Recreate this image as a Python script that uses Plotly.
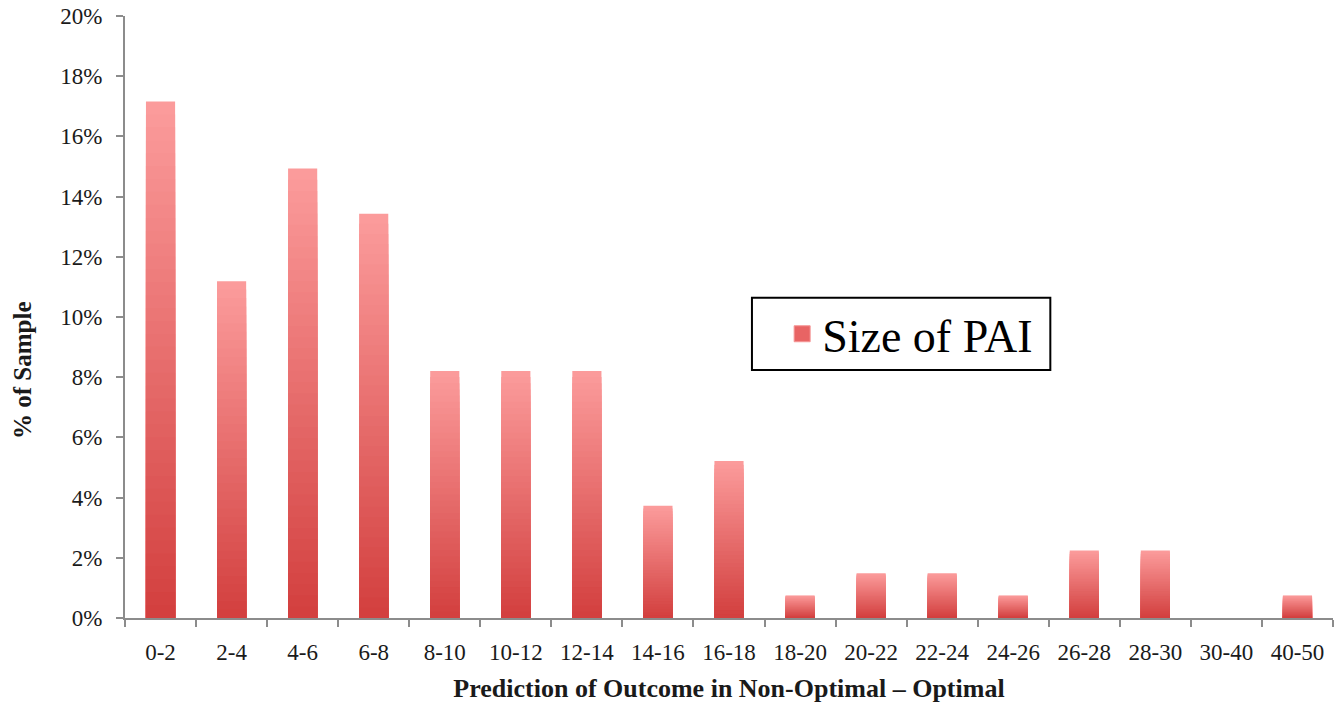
import plotly.graph_objects as go

categories = ["0-2", "2-4", "4-6", "6-8", "8-10", "10-12", "12-14", "14-16", "16-18",
              "18-20", "20-22", "22-24", "24-26", "26-28", "28-30", "30-40", "40-50"]
pct_sample = [17.16, 11.19, 14.93, 13.43, 8.21, 8.21, 8.21, 3.73, 5.22,
              0.75, 1.49, 1.49, 0.75, 2.24, 2.24, 0.0, 0.75]
series_name = "Size of PAI"
y_ticks = [0, 2, 4, 6, 8, 10, 12, 14, 16, 18, 20]
y_tick_text = [f"{v}%" for v in y_ticks]

top_rgb = (251, 155, 155)
bot_rgb = (211, 64, 63)
N = 40

fig = go.Figure()
for k in range(N):
    frac = 1 - k / N
    t = k / (N - 1)
    c = tuple(round(top_rgb[i] + (bot_rgb[i] - top_rgb[i]) * t) for i in range(3))
    fig.add_trace(go.Bar(
        x=categories,
        y=[v * frac for v in pct_sample],
        marker=dict(color="rgb(%d,%d,%d)" % c, line=dict(width=0)),
        showlegend=False,
        hoverinfo="skip",
    ))

# legend entry (square marker)
fig.add_trace(go.Scatter(
    x=[None], y=[None], mode="markers", name=series_name,
    marker=dict(symbol="square", size=22, color="rgb(232,100,100)",
                line=dict(color="rgb(245,150,150)", width=1)),
    showlegend=True,
))

font_family = "Liberation Serif, DejaVu Serif, serif"

fig.add_shape(type="rect", xref="paper", yref="paper",
              x0=0.519, x1=0.766, y0=0.412, y1=0.532,
              line=dict(color="black", width=2), fillcolor="white", layer="below")

fig.add_annotation(
    text="<b>% of Sample</b>", textangle=-90,
    xref="paper", yref="paper", x=-0.0844, y=0.412,
    xanchor="center", yanchor="middle", showarrow=False,
    font=dict(size=25, family=font_family, color="#1a1a1a"),
)

fig.update_layout(
    width=1335, height=707,
    margin=dict(l=125, r=2, t=16, b=89),
    paper_bgcolor="white", plot_bgcolor="white",
    barmode="overlay", bargap=0.59,
    font=dict(family=font_family, color="#1a1a1a"),
    legend=dict(
        x=0.544, y=0.472, xanchor="left", yanchor="middle",
        borderwidth=0,
        font=dict(size=46, family=font_family, color="black"),
        bgcolor="rgba(0,0,0,0)",
        itemsizing="trace",
    ),
    xaxis=dict(
        type="category",
        showline=True, linecolor="#8c8c8c", linewidth=2,
        ticks="outside", tickson="boundaries", ticklen=7, tickcolor="#8c8c8c", tickwidth=2,
        tickfont=dict(size=23, family=font_family, color="#1a1a1a"),
        ticklabelstandoff=12,
        showgrid=False,
        title=dict(text="<b>Prediction of Outcome in Non-Optimal – Optimal</b>",
                   font=dict(size=26, family=font_family, color="#1a1a1a"), standoff=15),
    ),
    yaxis=dict(
        range=[0, 20], tickmode="array", tickvals=y_ticks, ticktext=y_tick_text,
        showline=True, linecolor="#8c8c8c", linewidth=2,
        ticks="outside", ticklen=7, tickcolor="#8c8c8c", tickwidth=2,
        tickfont=dict(size=23, family=font_family, color="#1a1a1a"),
        ticklabelstandoff=9,
        showgrid=False, zeroline=False,
    ),
)

fig.write_html("out.html", config={"displayModeBar": False},
               post_script="document.body.style.margin='0';")
